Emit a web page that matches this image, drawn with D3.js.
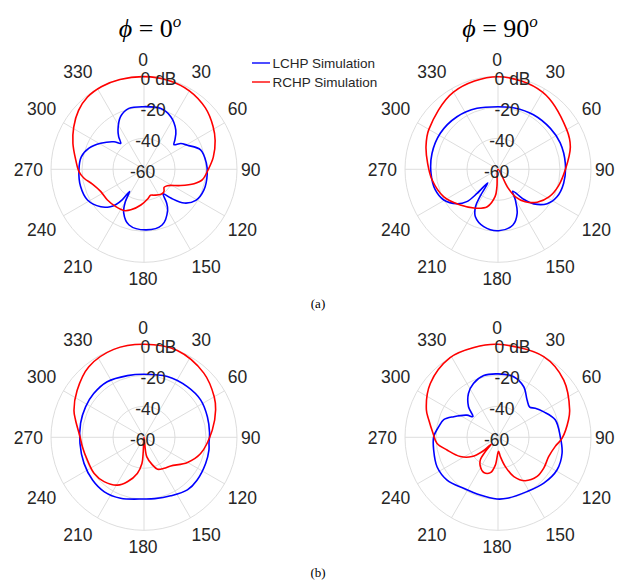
<!DOCTYPE html>
<html><head><meta charset="utf-8">
<script src="https://cdn.jsdelivr.net/npm/d3@7"></script>
<style>body{margin:0;background:#fff}svg{display:block}</style>
</head><body><svg id="c" width="630" height="581"></svg>
<script>
// ---- data (angle in degrees clockwise from top, value in dB) ----
const angleTicks = [0,30,60,90,120,150,180,210,240,270,300,330];
const magTicks = [-60,-40,-20,0];
const magLabels = ["-60","-40","-20","0 dB"];
const seriesNames = ["LCHP Simulation","RCHP Simulation"];
const panelTitles = ["0","90"];
const captions = ["(a)","(b)"];

const a0_LCHP = [[0,-19.6],[15,-19.3],[27,-21.9],[39,-27.4],[46.5,-32.5],[50.5,-35],[55,-31],[61,-28],[71,-21.4],[84,-19.6],[94,-19.1],[109,-19.1],[121,-21],[130,-26.1],[137,-34.6],[142,-40],[146,-34],[150,-29.5],[162,-22.2],[178,-20.9],[195,-22.8],[205,-29],[210,-36],[213,-43],[215.5,-36],[218.5,-31],[222,-27.5],[229,-23.1],[241.5,-18.5],[255,-17.6],[269,-18],[281,-18.7],[291,-22],[301,-27.4],[312.5,-33.7],[318,-37.5],[322,-33.5],[326.5,-29.6],[336,-22.8],[346,-19.5]];
const a0_RCHP = [[0,-0.2],[15,-0.5],[30,-1.5],[45,-4],[58,-7.5],[68,-10.5],[80,-14.6],[90,-18.5],[100,-21.7],[106,-26.4],[114,-34.2],[125,-41.6],[132,-42.6],[137,-41],[141,-40.4],[147,-40.6],[158,-42],[166,-42.7],[172,-41],[185,-36.9],[198,-32.5],[206,-30.4],[217,-29.8],[230,-29.2],[243,-28.6],[254,-25.4],[261.5,-20.9],[268,-18],[278,-15.5],[290,-11.2],[301,-7.1],[312,-3.2],[322,-0.8],[333,0],[345,0]];
const a90_LCHP = [[0,-19.6],[15,-19],[33,-18],[52,-17.1],[67,-16.4],[85,-16.4],[102,-16.7],[115,-18],[125,-21.3],[134,-27.9],[139.5,-34.6],[146,-43],[150.5,-37.3],[156.5,-29],[165,-22.8],[179.5,-20.4],[194,-21.9],[205.5,-26.1],[211,-31.8],[213.5,-39],[217,-49],[221,-39.4],[224,-31],[230,-25.4],[240.5,-19.8],[252,-17.4],[266.5,-16.7],[283.5,-16.2],[302,-16.1],[322,-17],[341,-18.4]];
const a90_RCHP = [[0,-0.3],[30,-2.5],[60,-8.8],[73,-11.2],[90,-16.5],[105,-19.5],[118,-22.5],[130,-27],[140,-32.7],[147.5,-39],[152,-47],[168,-60],[183.5,-48.8],[186,-42.4],[196,-34.9],[210,-31],[226.5,-26.5],[243,-20.8],[261,-16.9],[275,-14.4],[287.5,-11.3],[300,-8.5],[330,-2.5]];
const b0_LCHP = [[0,-19.3],[21,-18],[40.5,-17],[56.5,-16.2],[72,-17],[86,-17.6],[95,-17.9],[101,-17.3],[113,-16.8],[129,-16],[140.5,-16],[155.5,-18.5],[170,-19.8],[180,-20.2],[201,-17.9],[216,-16.5],[230,-16.8],[246.5,-17.8],[264.5,-18.5],[282.5,-18.1],[297.5,-17.5],[311,-17],[326.5,-17],[345,-18.8]];
const b0_RCHP = [[0,0],[21,0],[43,-3.4],[60,-7.7],[69,-10.5],[84,-15.7],[106,-22],[120,-27.6],[137,-34.7],[147,-36.2],[157,-37.6],[163,-41.4],[172,-47.4],[178,-60],[183,-51],[184.5,-43],[190.5,-36.3],[200.5,-29.4],[209,-24.7],[222,-21.5],[234,-20.3],[248,-20.6],[261,-19.8],[270.5,-18.7],[284,-14.5],[291,-11.6],[305,-7.3],[322,-2.2],[341,0]];
const b90_LCHP = [[0,-19.1],[14.5,-19.6],[27,-23.4],[38,-29.5],[46.5,-31.8],[52,-29.5],[61,-26.2],[73,-21.4],[89.5,-19.8],[104,-17.4],[119,-16.5],[135,-18.2],[152,-20.3],[171.5,-20.2],[181,-20.2],[197,-21],[214,-20.3],[230,-17.1],[244,-16.3],[259,-17.7],[270.5,-18.5],[280,-21.1],[288,-23.2],[295,-28.5],[305.5,-35.4],[309.5,-39],[316,-32.6],[326,-25.9],[335.5,-21.8],[347,-19.1]];
const b90_RCHP = [[0,0],[29.5,-0.2],[49,-3.8],[69,-10.5],[76,-13.1],[91,-18.7],[99,-22.6],[111,-25],[124,-24.4],[135,-24.3],[148,-27],[158,-32.7],[166,-40.5],[173,-47.4],[178,-51],[185.5,-42],[192,-36.7],[202,-35.5],[211,-37.9],[218,-41.5],[221.5,-47.7],[225,-54],[228,-46.1],[233.5,-39.1],[243,-32.7],[256,-26.1],[264.5,-20.4],[273.5,-18],[284,-14],[291,-10.5],[308.5,-4.2],[329,0],[345,0]];

// ---- layout ----
const svg = d3.select("#c");
const R = 93;
const colors = ["#0000ff","#ff0000"];
const panels = [
  {cx:144,   cy:169.3, series:[a0_LCHP, a0_RCHP]},
  {cx:498,   cy:169.3, series:[a90_LCHP, a90_RCHP]},
  {cx:144,   cy:437.3, series:[b0_LCHP, b0_RCHP]},
  {cx:498,   cy:437.3, series:[b90_LCHP, b90_RCHP]}
];
const r = d3.scaleLinear().domain([-60,0]).range([0,R]).clamp(true);
const sansFont = "'Liberation Sans', Arial, Helvetica, sans-serif";
const serifFont = "'Liberation Serif', 'Times New Roman', 'DejaVu Serif', serif";
const tickFs = 17.5, tickColor = "#262626";

const line = d3.lineRadial()
  .angle(d => d[0]*Math.PI/180)
  .radius(d => r(d[1]))
  .curve(d3.curveCatmullRomClosed.alpha(0.5));

panels.forEach(p => {
  const g = svg.append("g").attr("transform", `translate(${p.cx},${p.cy})`);
  g.selectAll("circle.ring").data(magTicks.filter(v => v > -60)).enter()
    .append("circle").attr("r", d => r(d))
    .attr("fill","none").attr("stroke","#d9d9d9").attr("stroke-width",0.9);
  g.selectAll("line.spoke").data(angleTicks).enter().append("line")
    .attr("x1",0).attr("y1",0)
    .attr("x2", d => R*Math.sin(d*Math.PI/180))
    .attr("y2", d => -R*Math.cos(d*Math.PI/180))
    .attr("stroke","#d9d9d9").attr("stroke-width",0.9);
  p.series.forEach((s,i) => {
    g.append("path").attr("d", line(s)).attr("fill","none")
      .attr("stroke", colors[i]).attr("stroke-width",1.6).attr("stroke-linejoin","round");
  });
  // angle labels: nearest box edge placed just outside the outer ring
  angleTicks.forEach(a => {
    const t = g.append("text").text(a)
      .attr("font-family", sansFont).attr("font-size", tickFs).attr("fill", tickColor)
      .attr("text-anchor","middle");
    const w = t.node().getComputedTextLength();
    const s = Math.sin(a*Math.PI/180), c = Math.cos(a*Math.PI/180);
    const sx = Math.abs(s) < 0.01 ? 0 : Math.sign(s);
    const sy = Math.abs(c) < 0.01 ? 0 : Math.sign(c);
    const x = (R+6)*s + sx*w/2 - (sx === 0 ? 1 : 2);
    const yc = -(R+10+8*s*s)*c - sy*6.3 + (sy === 0 ? 0.5 : 0);
    t.attr("x", x).attr("y", yc + 6.3);
  });
  magTicks.forEach((v,i) => {
    const rr = r(v);
    g.append("text").text(magLabels[i])
      .attr("font-family", sansFont).attr("font-size", tickFs).attr("fill", tickColor)
      .attr("x", -14 + Math.min(rr, 2*R/3)*0.17)
      .attr("y", 2.5 - rr + 6.3);
  });
});

// titles
[150, 500].forEach((x,i) => {
  const t = svg.append("text").attr("x", x).attr("y", 37)
    .attr("font-family", serifFont).attr("font-size", 26).attr("fill","#000")
    .attr("text-anchor","middle");
  t.append("tspan").attr("font-style","italic").text("\u03D5");
  t.append("tspan").text(" = " + panelTitles[i]);
  t.append("tspan").attr("font-style","italic").attr("font-size",17).attr("dy",-10).text("o");
});

// captions
[308, 577].forEach((y,i) => {
  svg.append("text").attr("x",318).attr("y",y).attr("text-anchor","middle")
    .attr("font-family", serifFont).attr("font-size",13).attr("fill","#000").text(captions[i]);
});

// legend
seriesNames.forEach((n,i) => {
  const y = 63 + i*19;
  svg.append("line").attr("x1",252).attr("x2",270).attr("y1",y).attr("y2",y)
    .attr("stroke",colors[i]).attr("stroke-width",1.4);
  svg.append("text").attr("x",272.5).attr("y",y+4.7).text(n)
    .attr("font-family", sansFont).attr("font-size",13.5).attr("fill","#262626");
});
</script></body></html>
